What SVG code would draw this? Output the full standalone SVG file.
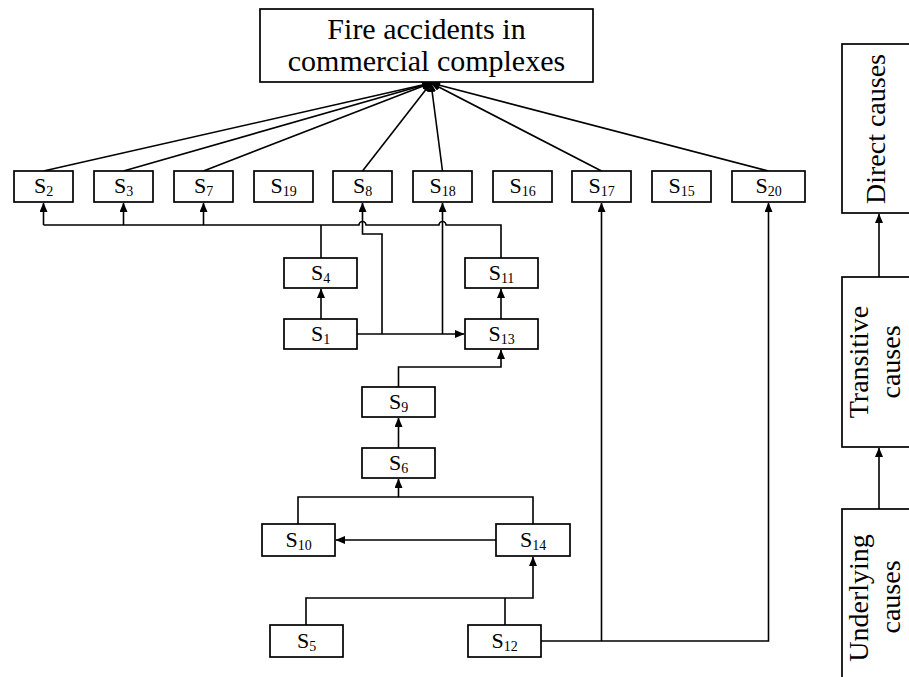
<svg xmlns="http://www.w3.org/2000/svg" width="909" height="677" viewBox="0 0 909 677">
<style>
.b{fill:#fff;stroke:#000;stroke-width:1.7}
.t{font-family:"Liberation Serif","Times New Roman",serif;fill:#000}
.s{font-size:22px;text-anchor:middle}
.sub{font-size:14px}
.c{fill:none;stroke:#000;stroke-width:1.6}
.a{marker-end:url(#ar)}
</style>
<defs>
<marker id="ar" markerUnits="userSpaceOnUse" markerWidth="10" markerHeight="8" refX="9" refY="4" orient="auto">
<path d="M0,0 L9.5,4 L0,8 z" fill="#000"/>
</marker>
</defs>
<rect width="909" height="677" fill="#fff"/>
<g id="connectors">
<path class="c a" d="M43.5,171 L431,83"/>
<path class="c a" d="M123.5,171 L431,83"/>
<path class="c a" d="M203.5,171 L431,83"/>
<path class="c a" d="M362.5,171 L431,83"/>
<path class="c a" d="M442.5,171 L431,83"/>
<path class="c a" d="M601.5,171 L431,83"/>
<path class="c a" d="M768.5,171 L431,83"/>
<path class="c" d="M43.5,225 H359 A3.5,3.5 0 0 1 366,225 H439 A3.5,3.5 0 0 1 446,225 H501 V258"/>
<path class="c" d="M321,258 V225"/>
<path class="c a" d="M43.5,225 V203"/>
<path class="c a" d="M123.5,225 V203"/>
<path class="c a" d="M203.5,225 V203"/>
<path class="c a" d="M321,319 V289"/>
<path class="c a" d="M357,334 H464"/>
<path class="c a" d="M382,334 V234 H362.5 V203"/>
<path class="c a" d="M442.5,334 V203"/>
<path class="c a" d="M501,319 V289"/>
<path class="c a" d="M398.5,387 V367 H501 V350"/>
<path class="c a" d="M398.5,448 V418"/>
<path class="c" d="M298,524 V497 H533 V524"/>
<path class="c a" d="M398.5,497 V479"/>
<path class="c a" d="M496,540 H336"/>
<path class="c a" d="M306,625 V598 H533 V557"/>
<path class="c" d="M505,625 V598"/>
<path class="c a" d="M541,641 H768.5 V203"/>
<path class="c a" d="M601.5,641 V203"/>
<path class="c a" d="M879,277 V214"/>
<path class="c a" d="M879,509 V448"/>
</g>
<g id="title">
<rect class="b" x="260" y="9" width="333" height="73"/>
<text class="t" x="426.5" y="39" font-size="30" text-anchor="middle">Fire accidents in</text>
<text class="t" x="426.5" y="71" font-size="30" text-anchor="middle">commercial complexes</text>
</g>
<g id="S2"><rect class="b" x="14" y="171" width="59" height="31"/><text class="t s" x="43.5" y="193">S<tspan class="sub" dy="3">2</tspan></text></g>
<g id="S3"><rect class="b" x="94" y="171" width="59" height="31"/><text class="t s" x="123.5" y="193">S<tspan class="sub" dy="3">3</tspan></text></g>
<g id="S7"><rect class="b" x="174" y="171" width="59" height="31"/><text class="t s" x="203.5" y="193">S<tspan class="sub" dy="3">7</tspan></text></g>
<g id="S19"><rect class="b" x="254" y="171" width="59" height="31"/><text class="t s" x="283.5" y="193">S<tspan class="sub" dy="3">19</tspan></text></g>
<g id="S8"><rect class="b" x="333" y="171" width="59" height="31"/><text class="t s" x="362.5" y="193">S<tspan class="sub" dy="3">8</tspan></text></g>
<g id="S18"><rect class="b" x="413" y="171" width="59" height="31"/><text class="t s" x="442.5" y="193">S<tspan class="sub" dy="3">18</tspan></text></g>
<g id="S16"><rect class="b" x="493" y="171" width="59" height="31"/><text class="t s" x="522.5" y="193">S<tspan class="sub" dy="3">16</tspan></text></g>
<g id="S17"><rect class="b" x="572" y="171" width="59" height="31"/><text class="t s" x="601.5" y="193">S<tspan class="sub" dy="3">17</tspan></text></g>
<g id="S15"><rect class="b" x="652" y="171" width="59" height="31"/><text class="t s" x="681.5" y="193">S<tspan class="sub" dy="3">15</tspan></text></g>
<g id="S20"><rect class="b" x="732" y="171" width="73" height="31"/><text class="t s" x="768.5" y="193">S<tspan class="sub" dy="3">20</tspan></text></g>
<g id="S4"><rect class="b" x="284" y="258" width="73" height="30"/><text class="t s" x="320.5" y="280">S<tspan class="sub" dy="3">4</tspan></text></g>
<g id="S11"><rect class="b" x="465" y="258" width="73" height="30"/><text class="t s" x="501.5" y="280">S<tspan class="sub" dy="3">11</tspan></text></g>
<g id="S1"><rect class="b" x="284" y="319" width="73" height="30"/><text class="t s" x="320.5" y="341">S<tspan class="sub" dy="3">1</tspan></text></g>
<g id="S13"><rect class="b" x="465" y="319" width="73" height="30"/><text class="t s" x="501.5" y="341">S<tspan class="sub" dy="3">13</tspan></text></g>
<g id="S9"><rect class="b" x="362" y="387" width="73" height="30"/><text class="t s" x="398.5" y="409">S<tspan class="sub" dy="3">9</tspan></text></g>
<g id="S6"><rect class="b" x="362" y="448" width="73" height="30"/><text class="t s" x="398.5" y="470">S<tspan class="sub" dy="3">6</tspan></text></g>
<g id="S10"><rect class="b" x="262" y="524" width="73" height="32"/><text class="t s" x="298.5" y="547">S<tspan class="sub" dy="3">10</tspan></text></g>
<g id="S14"><rect class="b" x="496" y="524" width="74" height="32"/><text class="t s" x="533" y="547">S<tspan class="sub" dy="3">14</tspan></text></g>
<g id="S5"><rect class="b" x="270" y="625" width="73" height="32"/><text class="t s" x="306.5" y="648">S<tspan class="sub" dy="3">5</tspan></text></g>
<g id="S12"><rect class="b" x="468" y="625" width="73" height="32"/><text class="t s" x="504.5" y="648">S<tspan class="sub" dy="3">12</tspan></text></g>
<g id="direct"><rect class="b" x="842" y="44" width="80" height="169"/><text class="t" font-size="28" text-anchor="middle" transform="translate(885,129) rotate(-90)">Direct causes</text></g>
<g id="transitive"><rect class="b" x="842" y="277" width="80" height="170"/><text class="t" font-size="28" text-anchor="middle" transform="translate(868,362) rotate(-90)">Transitive</text><text class="t" font-size="28" text-anchor="middle" transform="translate(900,362) rotate(-90)">causes</text></g>
<g id="underlying"><rect class="b" x="842" y="509" width="80" height="180"/><text class="t" font-size="28" text-anchor="middle" transform="translate(868,598) rotate(-90)">Underlying</text><text class="t" font-size="28" text-anchor="middle" transform="translate(900,597) rotate(-90)">causes</text></g>
</svg>
